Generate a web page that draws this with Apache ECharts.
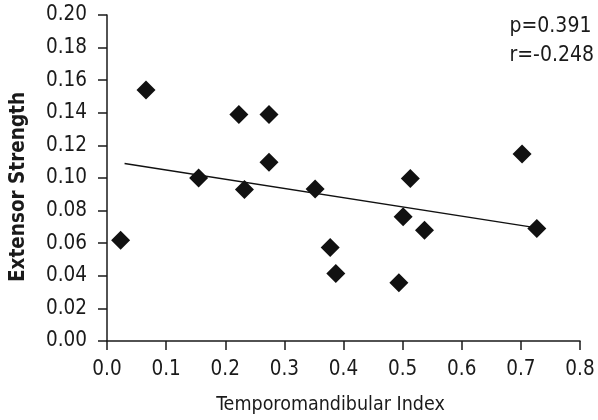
<!DOCTYPE html>
<html><head><meta charset="utf-8">
<script src="https://cdn.jsdelivr.net/npm/echarts@6/dist/echarts.min.js"></script>
<style>html,body{margin:0;padding:0;background:#fff}#c{width:598px;height:420px}</style>
</head><body><div id="c"></div>
<script>
const xValues = [0.023, 0.066, 0.155, 0.223, 0.2325, 0.274, 0.274, 0.352, 0.3775, 0.387, 0.4937, 0.5008, 0.513, 0.537, 0.702, 0.727];
const yValues = [0.0618, 0.154, 0.100, 0.139, 0.093, 0.139, 0.1097, 0.0932, 0.0573, 0.0414, 0.0358, 0.0762, 0.0997, 0.068, 0.1147, 0.069];
const trendX = [0.0297, 0.727];
const trendY = [0.1089, 0.0694];
const statLines = ['p=0.391', 'r=-0.248'];
const xTitle = 'Temporomandibular Index';
const yTitle = 'Extensor Strength';

const FONT = "'Liberation Sans Narrow','DejaVu Sans Condensed','Liberation Sans',sans-serif";
const chart = echarts.init(document.getElementById('c'), null, {renderer: 'canvas'});
chart.setOption({
  animation: false,
  backgroundColor: '#fff',
  grid: {left: 100, right: 18, top: 15, bottom: 79, containLabel: false},
  graphic: [{
    type: 'text', right: 4, top: 12,
    style: {text: statLines.join('\n'), font: '21px ' + FONT, fill: '#1a1a1a', lineHeight: 29, align: 'left'}
  }],
  xAxis: {
    type: 'value', min: 0, max: 0.8, interval: 0.1,
    name: xTitle, nameLocation: 'middle', nameGap: 54,
    nameTextStyle: {fontFamily: FONT, fontSize: 19.5, color: '#1a1a1a', padding: [0, 26, 0, 0]},
    axisLine: {lineStyle: {color: '#1a1a1a', width: 1.5}},
    axisTick: {show: true, length: 9, lineStyle: {color: '#1a1a1a', width: 1.5}},
    axisLabel: {fontFamily: FONT, fontSize: 20.5, color: '#1a1a1a', margin: 18, formatter: v => v.toFixed(1)},
    splitLine: {show: false}
  },
  yAxis: {
    type: 'value', min: 0, max: 0.2, interval: 0.02,
    name: yTitle, nameLocation: 'middle', nameGap: 78, nameRotate: 90,
    nameTextStyle: {fontFamily: FONT, fontSize: 20.5, fontWeight: 'bold', color: '#1a1a1a', padding: [0, 18, 0, 0]},
    axisLine: {show: true, lineStyle: {color: '#1a1a1a', width: 1.5}},
    axisTick: {show: true, length: 9, lineStyle: {color: '#1a1a1a', width: 1.5}},
    axisLabel: {fontFamily: FONT, fontSize: 20.5, color: '#1a1a1a', margin: 20, formatter: v => v.toFixed(2)},
    splitLine: {show: false}
  },
  series: [
    {
      type: 'line', data: trendX.map((x, i) => [x, trendY[i]]),
      symbol: 'none', lineStyle: {color: '#111', width: 1.5}, z: 1
    },
    {
      type: 'scatter', data: xValues.map((x, i) => [x, yValues[i]]),
      symbol: 'diamond', symbolSize: [19, 19],
      itemStyle: {color: '#111', opacity: 1}, z: 2
    }
  ]
});
</script></body></html>
